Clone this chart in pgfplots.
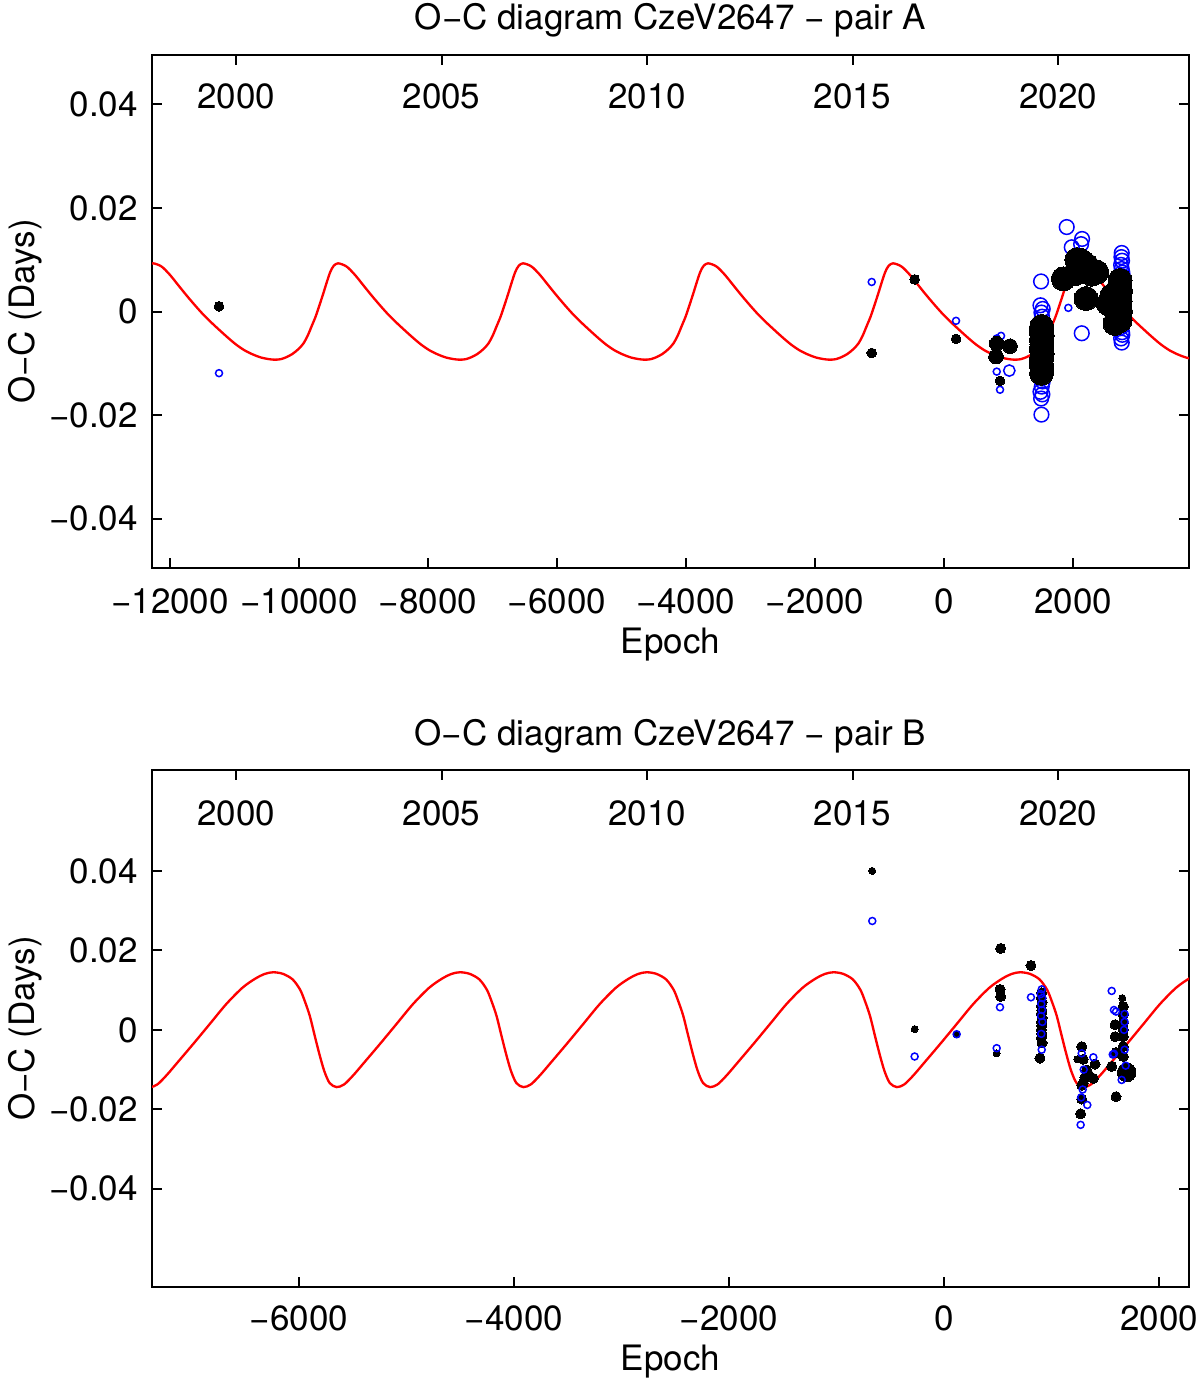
\documentclass[border=0pt]{standalone}
\usepackage{fontspec}
\setmainfont{TeX Gyre Heros}
\usepackage{pgfplots}
\pgfplotsset{compat=1.18}
\pgfplotsset{
  ocbase/.style={
    scale only axis, width=311.1pt,
    axis line style={line width=0.6pt},
    every tick/.style={line width=0.6pt, black},
    major tick length=3pt, tick align=inside,
    /pgf/number format/assume math mode=true,
    scaled y ticks=false, scaled x ticks=false,
    xtick pos=lower, ytick pos=both,
    xticklabel style={anchor=base, yshift=-13.8pt},
    yticklabel style={xshift=-0.6pt},
    title style={at={(axis description cs:0.5,1)}, anchor=base},
    xlabel style={at={(axis description cs:0.5,0)}, anchor=base},
    ylabel style={at={(axis description cs:-0.1133,0.5)}, anchor=base, rotate=0},
    ytick={-0.04,-0.02,0,0.02,0.04},
    yticklabels={−0.04,−0.02,0,0.02,0.04},
  },
  yearaxis/.style={
    scale only axis, width=311.1pt,
    xmin=1997.956, xmax=2023.187, ymin=0, ymax=1,
    axis x line*=top, axis y line=none,
    axis line style={line width=0.6pt},
    every tick/.style={line width=0.6pt, black},
    major tick length=3pt, tick align=inside,
    xtick={2000,2005,2010,2015,2020},
    xticklabels={2000,2005,2010,2015,2020},
    /pgf/number format/assume math mode=true,
  },
  bs/.style={only marks, mark=*, mark size=#1, mark options={fill=black, draw=black, line width=0pt}},
  bo/.style={only marks, mark=o, mark size=#1, mark options={draw=blue, line width=0.45pt}},
  fit/.style={red, line width=0.7pt, smooth, tension=0.5, no marks},
}
\begin{document}
\fontsize{10.5}{12.6}\selectfont
\begin{tikzpicture}
\path[use as bounding box] (0,0) rectangle (360pt,414pt);
% ================= TOP PANEL =================
\begin{axis}[ocbase, at={(45.6pt,243.6pt)}, anchor=south west, height=153.9pt,
  xmin=-12279, xmax=3798, ymin=-0.0495, ymax=0.0495,
  xtick={-12000,-10000,-8000,-6000,-4000,-2000,0,2000},
  xticklabels={−12000,−10000,−8000,−6000,−4000,−2000,0,2000},
  title={O−C diagram CzeV2647 − pair A}, title style={yshift=1.6pt},
  xlabel={Epoch}, xlabel style={yshift=-25.8pt},
  ylabel={O−C (Days)}]
\addplot[fit] coordinates {
(-12400,0.0081) (-12330,0.0089)
(-12263,0.0093) (-12133,0.0087) (-12003,0.0071) (-11873,0.0051) (-11743,0.0031) (-11613,0.0012) (-11483,-0.0006) (-11353,-0.0022) (-11223,-0.0037) (-11098,-0.0051) (-10973,-0.0064) (-10843,-0.0075) (-10713,-0.0083) (-10583,-0.0089) (-10463,-0.0092) (-10373,-0.0093) (-10283,-0.0092) (-10193,-0.0088) (-10103,-0.0082) (-10013,-0.0073) (-9933,-0.0062) (-9863,-0.0046) (-9803,-0.0028) (-9743,-0.0010) (-9683,0.0012) (-9623,0.0035) (-9563,0.0059) (-9513,0.0077) (-9463,0.0088)
(-9395,0.0093) (-9265,0.0087) (-9135,0.0071) (-9005,0.0051) (-8875,0.0031) (-8745,0.0012) (-8615,-0.0006) (-8485,-0.0022) (-8355,-0.0037) (-8230,-0.0051) (-8105,-0.0064) (-7975,-0.0075) (-7845,-0.0083) (-7715,-0.0089) (-7595,-0.0092) (-7505,-0.0093) (-7415,-0.0092) (-7325,-0.0088) (-7235,-0.0082) (-7145,-0.0073) (-7065,-0.0062) (-6995,-0.0046) (-6935,-0.0028) (-6875,-0.0010) (-6815,0.0012) (-6755,0.0035) (-6695,0.0059) (-6645,0.0077) (-6595,0.0088)
(-6527,0.0093) (-6397,0.0087) (-6267,0.0071) (-6137,0.0051) (-6007,0.0031) (-5877,0.0012) (-5747,-0.0006) (-5617,-0.0022) (-5487,-0.0037) (-5362,-0.0051) (-5237,-0.0064) (-5107,-0.0075) (-4977,-0.0083) (-4847,-0.0089) (-4727,-0.0092) (-4637,-0.0093) (-4547,-0.0092) (-4457,-0.0088) (-4367,-0.0082) (-4277,-0.0073) (-4197,-0.0062) (-4127,-0.0046) (-4067,-0.0028) (-4007,-0.0010) (-3947,0.0012) (-3887,0.0035) (-3827,0.0059) (-3777,0.0077) (-3727,0.0088)
(-3659,0.0093) (-3529,0.0087) (-3399,0.0071) (-3269,0.0051) (-3139,0.0031) (-3009,0.0012) (-2879,-0.0006) (-2749,-0.0022) (-2619,-0.0037) (-2494,-0.0051) (-2369,-0.0064) (-2239,-0.0075) (-2109,-0.0083) (-1979,-0.0089) (-1859,-0.0092) (-1769,-0.0093) (-1679,-0.0092) (-1589,-0.0088) (-1499,-0.0082) (-1409,-0.0073) (-1329,-0.0062) (-1259,-0.0046) (-1199,-0.0028) (-1139,-0.0010) (-1079,0.0012) (-1019,0.0035) (-959,0.0059) (-909,0.0077) (-859,0.0088)
(-791,0.0093) (-661,0.0087) (-531,0.0071) (-401,0.0051) (-271,0.0031) (-141,0.0012) (-11,-0.0006) (119,-0.0022) (249,-0.0037) (374,-0.0051) (499,-0.0064) (629,-0.0075) (759,-0.0083) (889,-0.0089) (1009,-0.0092) (1099,-0.0093) (1189,-0.0092) (1279,-0.0088) (1369,-0.0082) (1459,-0.0073) (1539,-0.0062) (1609,-0.0046) (1669,-0.0028) (1729,-0.0010) (1789,0.0012) (1849,0.0035) (1909,0.0059) (1959,0.0077) (2009,0.0088)
(2077,0.0093) (2207,0.0087) (2337,0.0071) (2467,0.0051) (2597,0.0031) (2727,0.0012) (2857,-0.0006) (2987,-0.0022) (3117,-0.0037) (3242,-0.0051) (3367,-0.0064) (3497,-0.0075) (3627,-0.0083) (3757,-0.0089) (3877,-0.0092)
};
% blue open circles (secondary)
\addplot[bo=1.05pt] coordinates {
(-11240,-0.0119) (-1121,0.0057) (186,-0.0018) (817,-0.0052) (884,-0.0047) (817,-0.0116) (868,-0.0151) (1927,0.0007)
};
\addplot[bo=1.7pt] coordinates { (1012,-0.0114) };
\addplot[bo=2.2pt] coordinates {
(1504,0.0058) (1495,0.0012) (1530,0.0005) (1510,-0.0002) (1520,-0.0010)
(1500,-0.0128) (1530,-0.0135) (1515,-0.0145) (1495,-0.0155) (1525,-0.0160) (1505,-0.0168) (1510,-0.0199)
(1902,0.0163) (1980,0.0124) (2140,0.0140) (2125,0.0130) (2100,0.0085) (2080,0.0095) (2135,-0.0042)
(2755,0.0113) (2750,0.0105) (2760,0.0098) (2745,0.0090) (2755,0.0082) (2765,0.0075) (2770,0.0068)
(2750,-0.0030) (2760,-0.0040) (2745,-0.0052) (2765,-0.0045) (2755,-0.0060)
};
% black filled (primary)
\addplot[bs=1.45pt] coordinates {
(-11240,0.0010) (-1121,-0.0080) (-455,0.0062) (186,-0.0053) (868,-0.0134)
};
\addplot[bs=2.2pt] coordinates { (806,-0.0087) (1023,-0.0067) (817,-0.0062) };
\addplot[bs=3.6pt] coordinates {
(1514,-0.0029) (1505,-0.0038) (1522,-0.0046) (1510,-0.0055) (1518,-0.0064) (1508,-0.0073) (1520,-0.0082) (1512,-0.0091) (1506,-0.0100) (1518,-0.0109) (1512,-0.0119)
(1850,0.0063) (2031,0.0073) (2060,0.0100) (2109,0.0099) (2150,0.0095) (2212,0.0089) (2290,0.0072) (2367,0.0076) (2201,0.0025)
(2729,0.0060) (2720,0.0050) (2735,0.0040) (2725,0.0030) (2730,0.0020) (2720,0.0010) (2735,0.0000) (2725,-0.0010) (2730,-0.0017)
(2547,0.0015) (2600,0.0030) (2651,-0.0023)
};
\end{axis}
\begin{axis}[yearaxis, at={(45.6pt,243.6pt)}, anchor=south west, height=153.9pt,
  xticklabel style={anchor=base, yshift=-16pt}]
\end{axis}
% ================= BOTTOM PANEL =================
\begin{axis}[ocbase, at={(45.6pt,27.9pt)}, anchor=south west, height=155.1pt,
  xmin=-7367, xmax=2279, ymin=-0.0647, ymax=0.0654,
  xtick={-6000,-4000,-2000,0,2000},
  xticklabels={−6000,−4000,−2000,0,2000},
  xticklabel style={yshift=0.8pt},
  title={O−C diagram CzeV2647 − pair B}, title style={yshift=1.35pt},
  xlabel={Epoch}, xlabel style={yshift=-25.2pt},
  ylabel={O−C (Days)}]
\addplot[fit] coordinates {
(-7451,-0.0134) (-7386,-0.0144) (-7316,-0.0137) (-7231,-0.0114) (-7136,-0.0084) (-6976,-0.0033) (-6826,0.0016) (-6676,0.0065) (-6526,0.0106) (-6406,0.0129) (-6316,0.0141)
(-6239,0.0145) (-6149,0.0141) (-6059,0.0127) (-5989,0.0101) (-5944,0.0071) (-5899,0.0035) (-5854,-0.0014) (-5809,-0.0062) (-5764,-0.0104) (-5714,-0.0134) (-5649,-0.0144) (-5579,-0.0137) (-5494,-0.0114) (-5399,-0.0084) (-5239,-0.0033) (-5089,0.0016) (-4939,0.0065) (-4789,0.0106) (-4669,0.0129) (-4579,0.0141)
(-4502,0.0145) (-4412,0.0141) (-4322,0.0127) (-4252,0.0101) (-4207,0.0071) (-4162,0.0035) (-4117,-0.0014) (-4072,-0.0062) (-4027,-0.0104) (-3977,-0.0134) (-3912,-0.0144) (-3842,-0.0137) (-3757,-0.0114) (-3662,-0.0084) (-3502,-0.0033) (-3352,0.0016) (-3202,0.0065) (-3052,0.0106) (-2932,0.0129) (-2842,0.0141)
(-2765,0.0145) (-2675,0.0141) (-2585,0.0127) (-2515,0.0101) (-2470,0.0071) (-2425,0.0035) (-2380,-0.0014) (-2335,-0.0062) (-2290,-0.0104) (-2240,-0.0134) (-2175,-0.0144) (-2105,-0.0137) (-2020,-0.0114) (-1925,-0.0084) (-1765,-0.0033) (-1615,0.0016) (-1465,0.0065) (-1315,0.0106) (-1195,0.0129) (-1105,0.0141)
(-1028,0.0145) (-938,0.0141) (-848,0.0127) (-778,0.0101) (-733,0.0071) (-688,0.0035) (-643,-0.0014) (-598,-0.0062) (-553,-0.0104) (-503,-0.0134) (-438,-0.0144) (-368,-0.0137) (-283,-0.0114) (-188,-0.0084) (-28,-0.0033) (122,0.0016) (272,0.0065) (422,0.0106) (542,0.0129) (632,0.0141)
(709,0.0145) (799,0.0141) (889,0.0127) (959,0.0101) (1004,0.0071) (1049,0.0035) (1094,-0.0014) (1139,-0.0062) (1184,-0.0104) (1234,-0.0134) (1299,-0.0144) (1369,-0.0137) (1454,-0.0114) (1549,-0.0084) (1709,-0.0033) (1859,0.0016) (2009,0.0065) (2159,0.0106) (2279,0.0129) (2369,0.0141)
};
% black filled (primary)
\addplot[bs=1.05pt] coordinates {
(-667,0.0400) (-273,0.0002) (118,-0.0011) (490,-0.0059) (1659,0.0080) (1240,-0.0074)
};
\addplot[bs=1.5pt] coordinates {
(527,0.0205) (521,0.0102) (527,0.0084) (809,0.0162)
(909,0.0093) (905,0.0080) (912,0.0070) (906,0.0060) (910,0.0050) (904,0.0040) (912,0.0030) (907,0.0020) (910,0.0010) (905,0.0000) (911,-0.0010) (906,-0.0020) (912,-0.0033) (893,-0.0071)
(1281,-0.0042) (1295,-0.0074) (1405,-0.0086) (1327,-0.0101) (1389,-0.0122) (1296,-0.0134) (1281,-0.0139) (1281,-0.0174) (1271,-0.0211) (1340,-0.0110) (1310,-0.0120)
(1668,0.0059) (1668,0.0038) (1668,0.0017) (1668,0.0000) (1668,-0.0017) (1668,-0.0042) (1668,-0.0067)
(1591,0.0013) (1591,-0.0017) (1600,-0.0057) (1560,-0.0092) (1600,-0.0168)
};
\addplot[bs=2.8pt] coordinates { (1699,-0.0107) };
% blue open circles (secondary)
\addplot[bo=1.05pt] coordinates {
(-667,0.0274) (-273,-0.0067) (118,-0.0011) (521,0.0057) (490,-0.0046) (809,0.0082)
(909,0.0102) (900,0.0090) (915,0.0080) (905,0.0065) (912,0.0050) (903,0.0035) (915,0.0020) (905,-0.0010) (909,-0.0050)
(1281,-0.0059) (1389,-0.0069) (1333,-0.0189) (1271,-0.0239) (1290,-0.0150) (1300,-0.0100) (1276,-0.0170)
(1560,0.0098) (1581,0.0050) (1600,0.0046) (1653,-0.0126) (1581,-0.0060) (1680,0.0040) (1680,0.0020) (1680,-0.0050) (1570,-0.0062) (1690,-0.0090) (1675,0.0000)
};
\end{axis}
\begin{axis}[yearaxis, at={(45.6pt,27.9pt)}, anchor=south west, height=155.1pt,
  xticklabel style={anchor=base, yshift=-16.6pt}]
\end{axis}
\end{tikzpicture}
\end{document}
